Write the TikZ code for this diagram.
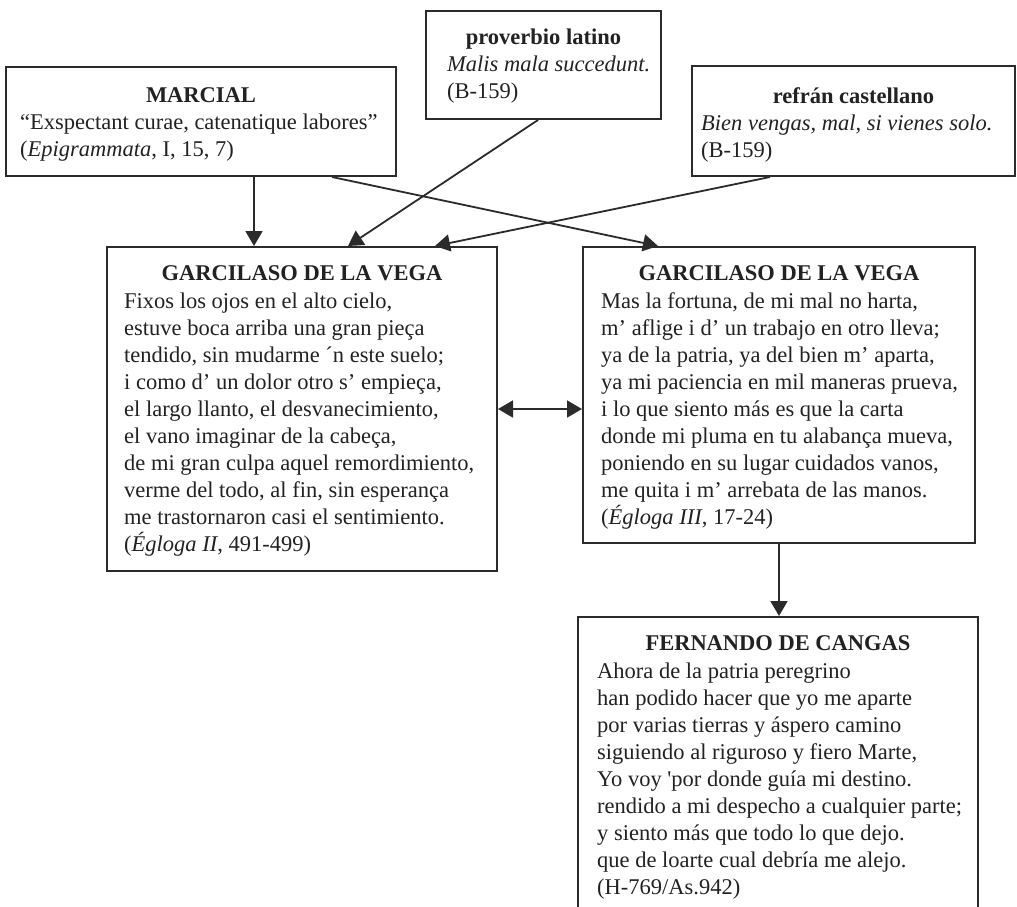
\documentclass[tikz,border=0pt]{standalone}
\usepackage{fontspec}
\setmainfont{Liberation Serif}
\usetikzlibrary{arrows.meta}
\definecolor{ink}{HTML}{222222}
\definecolor{frame}{HTML}{2B2B2B}
\newcommand{\bodytext}[1]{\parbox[t]{460pt}{\raggedright #1}}
\begin{document}
\begin{tikzpicture}[x=1pt,y=-1pt,
 box/.style={draw=frame,line width=2pt,fill=white,rectangle,inner sep=0},
 head/.style={anchor=base,inner sep=0,font=\fontsize{22.5}{27}\selectfont\bfseries,text=ink},
 body/.style={anchor=base west,inner sep=0,font=\fontsize{22.5}{27}\selectfont,text=ink},
 conn/.style={draw=frame,line width=1.8pt,-{Triangle[length=15pt,width=17pt]}},
 dconn/.style={draw=frame,line width=1.8pt,{Triangle[length=15pt,width=17pt]}-{Triangle[length=15pt,width=17pt]}},
]
\useasboundingbox (0,0) rectangle (1017,906);

% boxes
\node[box,minimum width=390pt,minimum height=109pt] (marcial) at (201,121.5) {};
\node[box,minimum width=235pt,minimum height=108pt] (prov) at (543.5,65) {};
\node[box,minimum width=323pt,minimum height=110pt] (refran) at (853.5,121) {};
\node[box,minimum width=390pt,minimum height=324pt] (garcL) at (302,409) {};
\node[box,minimum width=392pt,minimum height=296pt] (garcR) at (779,395) {};
\node[box,minimum width=400pt,minimum height=313pt] (fern) at (778,773.5) {};

% texts
\node[head] (hmarcial) at (201,102) {MARCIAL};
\node[body] (tmarcial) at (20,129) {\bodytext{“Exspectant curae, catenatique labores”\\(\textit{Epigrammata}, I, 15, 7)}};

\node[head] (hprov) at (543.5,44) {proverbio latino};
\node[body] (tprov) at (447,71) {\bodytext{\textit{Malis mala succedunt.}\\(B-159)}};

\node[head] (hrefran) at (853.5,103) {refrán castellano};
\node[body] (trefran) at (701,130) {\bodytext{\textit{Bien vengas, mal, si vienes solo.}\\(B-159)}};

\node[head] (hgarcL) at (302,280) {GARCILASO DE LA VEGA};
\node[body] (tgarcL) at (124,308) {\bodytext{Fixos los ojos en el alto cielo,\\
estuve boca arriba una gran pieça\\
tendido, sin mudarme ´n este suelo;\\
i como d’ un dolor otro s’ empieça,\\
el largo llanto, el desvanecimiento,\\
el vano imaginar de la cabeça,\\
de mi gran culpa aquel remordimiento,\\
verme del todo, al fin, sin esperança\\
me trastornaron casi el sentimiento.\\
(\textit{Égloga II}, 491-499)}};

\node[head] (hgarcR) at (779,280) {GARCILASO DE LA VEGA};
\node[body] (tgarcR) at (601,308) {\bodytext{Mas la fortuna, de mi mal no harta,\\
m’ aflige i d’ un trabajo en otro lleva;\\
ya de la patria, ya del bien m’ aparta,\\
ya mi paciencia en mil maneras prueva,\\
i lo que siento más es que la carta\\
donde mi pluma en tu alabança mueva,\\
poniendo en su lugar cuidados vanos,\\
me quita i m’ arrebata de las manos.\\
(\textit{Égloga III}, 17-24)}};

\node[head] (hfern) at (778,650) {FERNANDO DE CANGAS};
\node[body] (tfern) at (597,678) {\bodytext{Ahora de la patria peregrino\\
han podido hacer que yo me aparte\\
por varias tierras y áspero camino\\
siguiendo al riguroso y fiero Marte,\\
Yo voy \textquotesingle por donde guía mi destino.\\
rendido a mi despecho a cualquier parte;\\
y siento más que todo lo que dejo.\\
que de loarte cual debría me alejo.\\
(H-769/As.942)}};

% connectors
\draw[conn] ([xshift=53pt]marcial.south) -- ([xshift=-48pt]garcL.north);
\draw[conn] ([xshift=131pt]marcial.south) -- ([xshift=-121pt]garcR.north);
\draw[conn] ([xshift=-5.5pt]prov.south) -- ([xshift=46pt]garcL.north);
\draw[conn] ([xshift=-83.5pt]refran.south) -- ([xshift=133pt]garcL.north);
\draw[dconn] (garcL.east) -- (garcL.east -| garcR.west);
\draw[conn] (garcR.south) -- (garcR.south |- fern.north);
\end{tikzpicture}
\end{document}
